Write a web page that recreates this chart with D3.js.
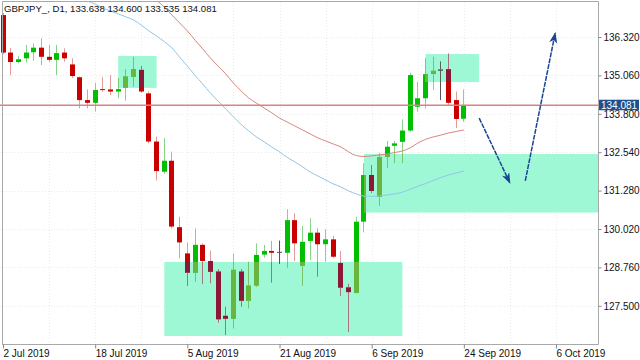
<!DOCTYPE html>
<html>
<head>
<meta charset="utf-8">
<script src="https://cdn.jsdelivr.net/npm/d3@7"></script>
<style>
  html, body { margin: 0; padding: 0; background: #fff; }
  svg { display: block; font-family: "Liberation Sans", Arial, sans-serif; }
</style>
</head>
<body>
<div id="chart"></div>
<script>
const chartTitle = "GBPJPY_, D1, 133.638 134.600 133.535 134.081";

// daily bars, 2 Jul 2019 .. 24 Sep 2019
const open = [137.04, 135.81, 135.50, 135.62, 135.82, 135.97, 135.67, 135.57, 135.81, 135.42,
  135.00, 134.25, 134.16, 134.61, 134.60, 134.53, 134.66, 135.02, 135.24, 134.47,
  132.89, 131.90, 132.26, 130.08, 129.22, 128.59, 129.50, 128.97, 128.62, 127.17,
  127.08, 128.62, 127.67, 128.17, 129.18, 129.30, 129.27, 129.24, 130.31, 128.82,
  129.63, 129.90, 129.52, 129.68, 128.90, 128.10, 127.93, 130.26, 131.79, 131.08,
  132.39, 132.75, 132.88, 133.25, 134.03, 134.31, 135.11, 135.25, 135.26, 134.25, 133.638];
const high = [137.11, 135.96, 135.70, 136.06, 136.11, 136.28, 136.06, 136.06, 135.95, 135.62,
  135.02, 134.60, 134.82, 135.00, 135.07, 134.97, 135.26, 135.67, 135.37, 134.53,
  133.05, 133.00, 132.56, 130.42, 129.57, 130.04, 129.55, 129.31, 128.70, 127.47,
  129.22, 128.70, 128.95, 129.55, 129.50, 129.63, 129.64, 130.67, 130.54, 130.12,
  130.37, 130.04, 130.01, 129.79, 129.30, 128.22, 130.42, 132.18, 132.12, 132.52,
  132.91, 132.91, 133.62, 135.15, 134.85, 135.62, 135.67, 135.51, 135.79, 134.53, 134.600];
const low = [135.76, 135.07, 135.46, 135.48, 135.54, 135.40, 135.50, 135.07, 135.51, 134.97,
  133.98, 133.98, 133.87, 134.53, 134.42, 134.31, 134.23, 134.69, 134.49, 132.83,
  131.61, 131.83, 130.04, 129.06, 128.15, 128.29, 128.22, 128.24, 126.95, 126.54,
  126.76, 127.47, 127.42, 128.12, 129.08, 128.26, 128.87, 128.75, 128.97, 128.16,
  129.00, 128.46, 128.95, 129.06, 127.83, 126.65, 127.91, 129.91, 131.20, 130.78,
  132.03, 132.18, 132.18, 133.21, 133.87, 133.98, 134.58, 134.25, 134.06, 133.33, 133.535];
const close = [135.81, 135.50, 135.59, 135.81, 135.97, 135.67, 135.57, 135.79, 135.62, 135.04,
  134.25, 134.16, 134.58, 134.58, 134.53, 134.61, 135.02, 135.27, 134.53, 132.89,
  131.92, 132.26, 130.10, 129.58, 128.59, 129.50, 128.97, 128.62, 127.06, 127.08,
  128.68, 127.67, 128.16, 129.17, 129.30, 129.24, 129.27, 130.31, 129.55, 129.60,
  129.90, 129.52, 129.68, 129.11, 128.10, 127.95, 130.26, 131.79, 131.27, 132.37,
  132.72, 132.83, 133.25, 135.07, 134.31, 135.10, 135.21, 135.25, 134.16, 133.63, 134.081];

// moving averages (null = off the chart)
const maSlow = [null, null, null, null, null, null, null, null, null, null,
  null, null, null, null, null, null, null, null, null, 137.80,
  137.53, 137.30, 137.04, 136.78, 136.52, 136.22, 135.93, 135.63, 135.37, 135.11,
  134.81, 134.55, 134.32, 134.15, 133.99, 133.83, 133.66, 133.53, 133.40, 133.27,
  133.14, 133.01, 132.91, 132.81, 132.71, 132.55, 132.43, 132.40, 132.42, 132.45,
  132.48, 132.53, 132.58, 132.68, 132.84, 132.96, 133.04, 133.10, 133.17, 133.22, 133.27];
const maFast = [null, null, null, null, null, null, null, null, null, null,
  137.63, 137.50, 137.40, 137.27, 137.17, 137.08, 136.98, 136.88, 136.71, 136.52,
  136.35, 136.17, 135.96, 135.66, 135.37, 135.06, 134.78, 134.48, 134.22, 133.96,
  133.70, 133.45, 133.24, 133.04, 132.88, 132.71, 132.55, 132.37, 132.22, 132.06,
  131.89, 131.76, 131.63, 131.50, 131.40, 131.27, 131.17, 131.10, 131.09, 131.10,
  131.14, 131.17, 131.23, 131.32, 131.42, 131.51, 131.61, 131.71, 131.79, 131.86, 131.92];

const priceTicks = [127.5, 128.76, 130.02, 131.28, 132.54, 133.8, 135.06, 136.32];
const dateTickBars = [0, 12, 24, 36, 48, 60, 72];
const dateTickLabels = ["2 Jul 2019", "18 Jul 2019", "5 Aug 2019", "21 Aug 2019",
  "6 Sep 2019", "24 Sep 2019", "6 Oct 2019"];

// shaded zones
const zoneFromBar = [15, 21, 55, 47];
const zoneToBar = [20, 52, 62, 80];
const zoneTop = [135.70, 128.94, 135.76, 132.48];
const zoneBottom = [134.65, 126.51, 134.84, 130.56];

// projected arrows
const arrowFromBar = [62, 68];
const arrowFromPrice = [133.66, 131.60];
const arrowToBar = [66, 71.9];
const arrowToPrice = [131.53, 136.45];

const width = 640;
const height = 360;
const plotRight = 598;
const plotBottom = 344;
const plotTop = 2;

const x = d3.scaleLinear().domain([0, 72]).range([3, 556]);
const y = d3.scaleLinear().domain([127.5, 136.32]).range([305.8, 37]);
const bars = d3.range(open.length);
const lastClose = close[close.length - 1];

const svg = d3
  .select("#chart")
  .append("svg")
  .attr("width", width)
  .attr("height", height)
  .attr("viewBox", [0, 0, width, height]);

svg.append("rect").attr("width", width).attr("height", height).attr("fill", "#fff");

const defs = svg.append("defs");
defs
  .append("clipPath")
  .attr("id", "plot")
  .append("rect")
  .attr("x", 0)
  .attr("y", plotTop)
  .attr("width", plotRight)
  .attr("height", plotBottom - plotTop);

const zoneRect = (sel) =>
  sel
    .attr("x", (d) => x(zoneFromBar[d]))
    .attr("y", (d) => y(zoneTop[d]))
    .attr("width", (d) => x(zoneToBar[d]) - x(zoneFromBar[d]))
    .attr("height", (d) => y(zoneBottom[d]) - y(zoneTop[d]));

const zones = d3.range(zoneFromBar.length);
defs
  .append("clipPath")
  .attr("id", "zones")
  .selectAll("rect")
  .data(zones)
  .join("rect")
  .call(zoneRect);

defs
  .append("marker")
  .attr("id", "arrow")
  .attr("markerWidth", 12)
  .attr("markerHeight", 10)
  .attr("refX", 10)
  .attr("refY", 4)
  .attr("orient", "auto")
  .attr("markerUnits", "userSpaceOnUse")
  .append("path")
  .attr("fill", "#1b4592")
  .attr("d", "M0,0 L11,4 L0,8 L3,4 z");

const plot = svg.append("g").attr("clip-path", "url(#plot)");

// faint grid
plot
  .append("g")
  .attr("stroke", "#ececec")
  .attr("stroke-dasharray", "1,2")
  .selectAll("line")
  .data(d3.range(6, 78, 6))
  .join("line")
  .attr("x1", (d) => Math.round(x(d)) + 0.5)
  .attr("x2", (d) => Math.round(x(d)) + 0.5)
  .attr("y1", plotTop)
  .attr("y2", plotBottom);

plot
  .append("g")
  .attr("stroke", "#ececec")
  .attr("stroke-dasharray", "1,2")
  .selectAll("line")
  .data(priceTicks)
  .join("line")
  .attr("x1", 0)
  .attr("x2", plotRight)
  .attr("y1", (d) => Math.round(y(d)) + 0.5)
  .attr("y2", (d) => Math.round(y(d)) + 0.5);

plot
  .append("g")
  .attr("fill", "#9ff8d5")
  .selectAll("rect")
  .data(zones)
  .join("rect")
  .call(zoneRect);

const normalColors = {
  upBody: "#00be00", upWick: "#86d486",
  downBody: "#c80000", downWick: "#e29a9a",
  doji: "#555",
};
const zoneColors = {
  upBody: "#68b63e", upWick: "#79c46a",
  downBody: "#8c1838", downWick: "#a8737f",
  doji: "#56625a",
};

const drawCandles = (g, pal) => {
  const kind = (i) => (close[i] > open[i] ? "up" : close[i] < open[i] ? "down" : "doji");
  const left = (i) => Math.round(x(i) - 2.5);

  g.selectAll("line")
    .data(bars)
    .join("line")
    .attr("x1", (i) => left(i) + 2.5)
    .attr("x2", (i) => left(i) + 2.5)
    .attr("y1", (i) => y(high[i]))
    .attr("y2", (i) => y(low[i]))
    .attr("stroke", (i) => (kind(i) === "doji" ? pal.doji : pal[kind(i) + "Wick"]))
    .attr("stroke-width", 1);

  g.selectAll("rect")
    .data(bars)
    .join("rect")
    .attr("x", left)
    .attr("width", 5)
    .attr("y", (i) => y(Math.max(open[i], close[i])))
    .attr("height", (i) => Math.max(1, Math.abs(y(open[i]) - y(close[i]))))
    .attr("fill", (i) => (kind(i) === "doji" ? pal.doji : pal[kind(i) + "Body"]));
};

plot.append("g").call(drawCandles, normalColors);
plot.append("g").attr("clip-path", "url(#zones)").call(drawCandles, zoneColors);

const maLine = (values) =>
  d3
    .line()
    .defined((i) => values[i] != null)
    .x((i) => x(i))
    .y((i) => y(values[i]))
    .curve(d3.curveMonotoneX)(bars);

plot
  .append("path")
  .attr("d", maLine(maSlow))
  .attr("fill", "none")
  .attr("stroke", "#d8867c")
  .attr("stroke-width", 1);

plot
  .append("path")
  .attr("d", maLine(maFast))
  .attr("fill", "none")
  .attr("stroke", "#93c5e6")
  .attr("stroke-width", 1);

// price line
plot
  .append("line")
  .attr("x1", 0)
  .attr("x2", plotRight)
  .attr("y1", y(lastClose))
  .attr("y2", y(lastClose))
  .attr("stroke", "#d88484")
  .attr("stroke-width", 1.6);

plot
  .append("g")
  .selectAll("line")
  .data(d3.range(arrowFromBar.length))
  .join("line")
  .attr("x1", (d) => x(arrowFromBar[d]))
  .attr("y1", (d) => y(arrowFromPrice[d]))
  .attr("x2", (d) => x(arrowToBar[d]))
  .attr("y2", (d) => y(arrowToPrice[d]))
  .attr("stroke", "#1b4592")
  .attr("stroke-width", 1.5)
  .attr("stroke-dasharray", "5,1")
  .attr("marker-end", "url(#arrow)");

// frame
svg
  .append("path")
  .attr("fill", "none")
  .attr("stroke", "#a9a9a9")
  .attr("d", `M2.5,${plotBottom} V1.5 H${plotRight + 0.5} V${plotBottom + 0.5} H2`);

// axes
const yAxis = svg
  .append("g")
  .attr("transform", `translate(${plotRight + 0.5},0)`)
  .call(
    d3
      .axisRight(y)
      .tickValues(priceTicks)
      .tickFormat(d3.format(".3f"))
      .tickSize(3)
      .tickPadding(2)
  );
yAxis.select(".domain").remove();
yAxis.selectAll("line").attr("stroke", "#888");
yAxis
  .selectAll("text")
  .attr("fill", "#111")
  .attr("font-size", 10)
  .attr("font-family", '"Liberation Sans", Arial, sans-serif');

const xAxis = svg
  .append("g")
  .attr("transform", `translate(0,${plotBottom + 0.5})`)
  .call(
    d3
      .axisBottom(x)
      .tickValues(dateTickBars)
      .tickFormat((d, i) => dateTickLabels[i])
      .tickSize(4)
  );
xAxis.select(".domain").remove();
xAxis.selectAll(".tick line").attr("stroke", "#888");
xAxis
  .selectAll("text")
  .attr("text-anchor", "start")
  .attr("x", 0)
  .attr("y", 12)
  .attr("dy", null)
  .attr("fill", "#111")
  .attr("font-size", 10)
  .attr("font-family", '"Liberation Sans", Arial, sans-serif');

// current price tag, drawn over the tick label just below it as in the terminal
const tag = svg.append("g").attr("transform", `translate(${plotRight + 1},${y(lastClose)})`);
tag
  .append("rect")
  .attr("x", 0)
  .attr("y", -5.5)
  .attr("width", width - plotRight - 2)
  .attr("height", 10.5)
  .attr("fill", "#1f4f8c");
tag
  .append("text")
  .attr("x", 2)
  .attr("y", 3.8)
  .attr("fill", "#fff")
  .attr("font-size", 10)
  .text(d3.format(".3f")(lastClose));

svg
  .append("text")
  .attr("x", 4)
  .attr("y", 12)
  .attr("font-size", 9.6)
  .attr("fill", "#111")
  .text(chartTitle);
</script>
</body>
</html>
